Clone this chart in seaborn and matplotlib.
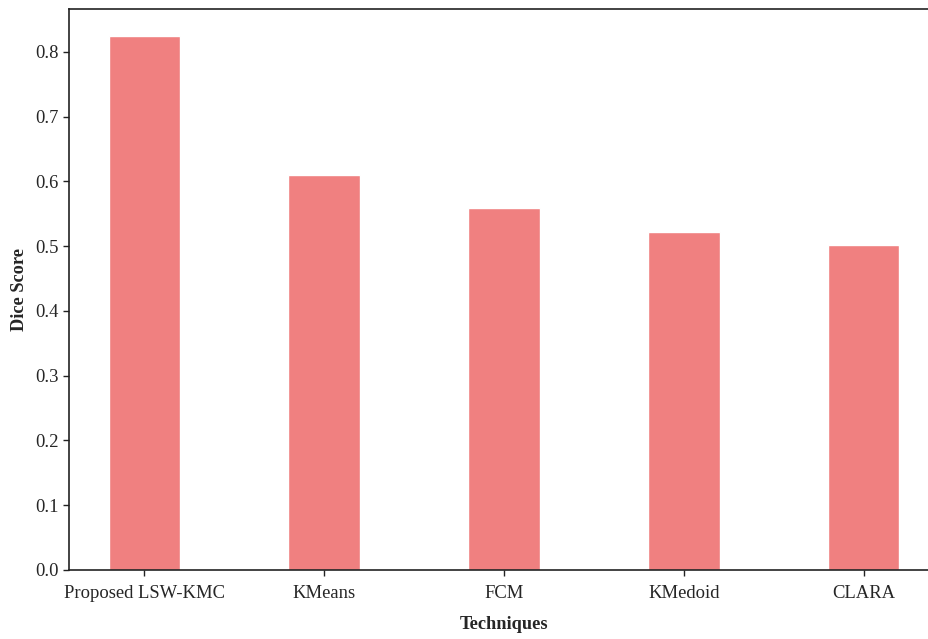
import matplotlib
matplotlib.use("Agg")
import matplotlib.pyplot as plt
import seaborn as sns
import pandas as pd

techniques = ["Proposed LSW-KMC", "KMeans", "FCM", "KMedoid", "CLARA"]
dice_scores = [0.825, 0.610, 0.559, 0.522, 0.502]
y_ticks = [0.0, 0.1, 0.2, 0.3, 0.4, 0.5, 0.6, 0.7, 0.8]

sns.set_style("ticks")
plt.rcParams["font.family"] = ["Liberation Serif", "DejaVu Serif"]

df = pd.DataFrame({"Techniques": techniques, "Dice Score": dice_scores})

fig = plt.figure(figsize=(9.29, 6.39), dpi=100)
ax = fig.add_axes([69 / 929, 1 - 570 / 639, (939 - 69) / 929, (570 - 9) / 639])

sns.barplot(data=df, x="Techniques", y="Dice Score", color="#F08080",
            saturation=1, width=0.4, ax=ax)

ax.set_xlim(-0.42, 4.42)
ax.set_ylim(0, 0.866)
ax.set_yticks(y_ticks)
ax.set_yticklabels([f"{t:.1f}" for t in y_ticks])
ax.tick_params(axis="both", labelsize=13.4, color="#222222", length=4, width=1)
ax.tick_params(axis="x", pad=7)
ax.set_xlabel("Techniques", fontsize=13.2, fontweight="bold", labelpad=10)
ax.set_ylabel("Dice Score", fontsize=13.2, fontweight="bold", labelpad=5)
for side in ["left", "bottom", "top", "right"]:
    ax.spines[side].set_color("#222222")
    ax.spines[side].set_linewidth(1.2)

fig.savefig("out.png", dpi=100)
